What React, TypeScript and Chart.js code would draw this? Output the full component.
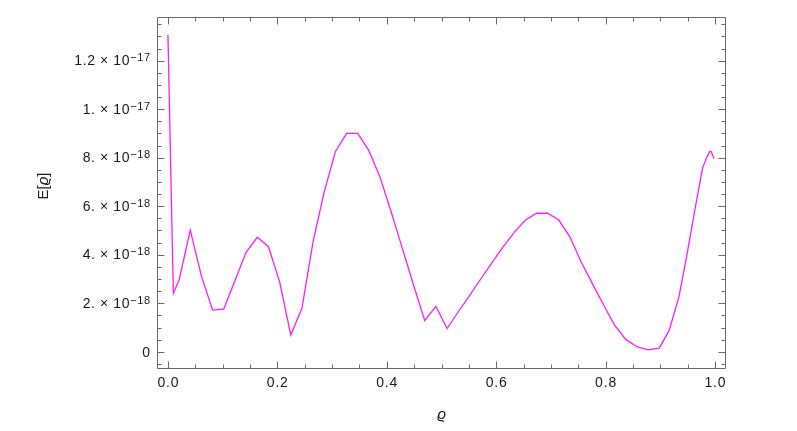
import React, { useEffect, useRef } from "react";
import { Chart, registerables } from "chart.js";

Chart.register(...registerables);

// ---- data ----
const RHO = [
  0, 0.0099, 0.0204, 0.0408, 0.0612, 0.0816, 0.102, 0.1224, 0.1429, 0.1633,
  0.1837, 0.2041, 0.2245, 0.2449, 0.2653, 0.2857, 0.3061, 0.3265, 0.3469, 0.3673,
  0.3878, 0.4082, 0.4286, 0.449, 0.4694, 0.4898, 0.5102, 0.5306, 0.551, 0.5714,
  0.5918, 0.6122, 0.6327, 0.6531, 0.6735, 0.6939, 0.7143, 0.7347, 0.7551, 0.7755,
  0.7959, 0.8163, 0.8367, 0.8571, 0.8776, 0.898, 0.916, 0.934, 0.948, 0.963,
  0.977, 0.984, 0.99, 0.993, 0.998,
];
const ENERGY = [
  13.06e-18, 2.41e-18, 2.96e-18, 5.02e-18, 3.12e-18, 1.72e-18, 1.76e-18, 2.93e-18, 4.1e-18, 4.72e-18,
  4.33e-18, 2.89e-18, 0.69e-18, 1.79e-18, 4.54e-18, 6.6e-18, 8.25e-18, 9.0e-18, 9.0e-18, 8.29e-18,
  7.19e-18, 5.75e-18, 4.25e-18, 2.74e-18, 1.28e-18, 1.87e-18, 0.96e-18, 1.65e-18, 2.3e-18, 2.99e-18,
  3.65e-18, 4.31e-18, 4.91e-18, 5.42e-18, 5.71e-18, 5.71e-18, 5.43e-18, 4.74e-18, 3.71e-18, 2.82e-18,
  1.95e-18, 1.1e-18, 0.51e-18, 0.21e-18, 0.08e-18, 0.15e-18, 0.87e-18, 2.27e-18, 3.92e-18, 5.84e-18,
  7.56e-18, 7.97e-18, 8.25e-18, 8.25e-18, 7.97e-18,
];

// ---- axes / ticks ----
const X_MIN = -0.02;
const X_MAX = 1.02;
const Y_MIN = -0.71e-18;
const Y_MAX = 13.8e-18;

const X_MAJOR = [0, 0.2, 0.4, 0.6, 0.8, 1.0];
const X_LABELS = ["0.0", "0.2", "0.4", "0.6", "0.8", "1.0"];
const X_MINOR = [
  0.05, 0.1, 0.15, 0.25, 0.3, 0.35, 0.45, 0.5, 0.55, 0.65, 0.7, 0.75, 0.85, 0.9, 0.95,
];

const Y_MAJOR = [0, 2e-18, 4e-18, 6e-18, 8e-18, 1e-17, 1.2e-17];
const Y_MANTISSA = ["0", "2.", "4.", "6.", "8.", "1.", "1.2"];
const Y_EXPONENT = ["", "\u221218", "\u221218", "\u221218", "\u221218", "\u221217", "\u221217"];
const Y_MINOR = [
  -0.5e-18, 0.5e-18, 1e-18, 1.5e-18, 2.5e-18, 3e-18, 3.5e-18, 4.5e-18, 5e-18, 5.5e-18,
  6.5e-18, 7e-18, 7.5e-18, 8.5e-18, 9e-18, 9.5e-18, 10.5e-18, 11e-18, 11.5e-18,
  12.5e-18, 13e-18, 13.5e-18,
];

const X_TITLE = "\u03F1";
const Y_TITLE_PARTS = ["E[", "\u03F1", "]"];

const FONT = '"Liberation Sans", Arial, sans-serif';
const FRAME_COLOR = "#6a6a6a";
const TEXT_COLOR = "#1a1a1a";
const LINE_COLOR = "#ff1aff";

const framePlugin = {
  id: "mmaFrame",
  beforeDatasetsDraw(chart: any) {
    const { ctx, chartArea: a, scales } = chart;
    const x = scales.x;
    const y = scales.y;
    ctx.save();
    ctx.strokeStyle = FRAME_COLOR;
    ctx.lineWidth = 1;
    const L = Math.round(a.left) + 0.5;
    const R = Math.round(a.right) - 0.5;
    const T = Math.round(a.top) + 0.5;
    const B = Math.round(a.bottom) - 0.5;
    ctx.beginPath();
    ctx.rect(L, T, R - L, B - T);
    ctx.stroke();

    ctx.beginPath();
    const xt = (v: number, len: number) => {
      const px = Math.round(x.getPixelForValue(v)) + 0.5;
      ctx.moveTo(px, B);
      ctx.lineTo(px, B - len);
      ctx.moveTo(px, T);
      ctx.lineTo(px, T + len);
    };
    const yt = (v: number, len: number) => {
      const py = Math.round(y.getPixelForValue(v)) + 0.5;
      ctx.moveTo(L, py);
      ctx.lineTo(L + len, py);
      ctx.moveTo(R, py);
      ctx.lineTo(R - len, py);
    };
    X_MAJOR.forEach((v) => xt(v, 7));
    X_MINOR.forEach((v) => xt(v, 4));
    Y_MAJOR.forEach((v) => yt(v, 7));
    Y_MINOR.forEach((v) => yt(v, 4));
    ctx.stroke();
    ctx.restore();
  },
  afterDraw(chart: any) {
    const { ctx, chartArea: a, scales } = chart;
    const x = scales.x;
    const y = scales.y;
    ctx.save();
    ctx.fillStyle = TEXT_COLOR;

    // x tick labels
    ctx.font = `14px ${FONT}`;
    (ctx as any).letterSpacing = "0.8px";
    ctx.textAlign = "center";
    ctx.textBaseline = "middle";
    X_MAJOR.forEach((v, i) => {
      ctx.fillText(X_LABELS[i], x.getPixelForValue(v) + 0.4, a.bottom + 14.5);
    });

    // y tick labels with superscript exponents
    const rightEdge = a.left - 7;
    (ctx as any).letterSpacing = "0.6px";
    Y_MAJOR.forEach((v, i) => {
      const py = y.getPixelForValue(v);
      const exp = Y_EXPONENT[i];
      if (!exp) {
        ctx.font = `14px ${FONT}`;
        ctx.textAlign = "right";
        ctx.textBaseline = "middle";
        ctx.fillText(Y_MANTISSA[i], rightEdge + 0.6, py + 1);
        return;
      }
      ctx.textBaseline = "alphabetic";
      ctx.textAlign = "right";
      ctx.font = `11px ${FONT}`;
      const ew = ctx.measureText(exp).width;
      ctx.fillText(exp, rightEdge + 0.6, py + 0.5);
      ctx.font = `14px ${FONT}`;
      ctx.fillText(`${Y_MANTISSA[i]} \u00D7 10`, rightEdge - ew + 0.6, py + 4.5);
    });
    (ctx as any).letterSpacing = "0px";

    // x title
    ctx.font = `italic 15px ${FONT}`;
    ctx.textAlign = "center";
    ctx.textBaseline = "middle";
    ctx.fillText(X_TITLE, x.getPixelForValue(0.5), 415);

    // y title (rotated)
    ctx.save();
    ctx.translate(44, 186);
    ctx.rotate(-Math.PI / 2);
    const fonts = [`15px ${FONT}`, `italic 15px ${FONT}`, `15px ${FONT}`];
    let total = 0;
    const widths = Y_TITLE_PARTS.map((p, i) => {
      ctx.font = fonts[i];
      const w = ctx.measureText(p).width;
      total += w;
      return w;
    });
    let cx = -total / 2;
    ctx.textAlign = "left";
    ctx.textBaseline = "middle";
    Y_TITLE_PARTS.forEach((p, i) => {
      ctx.font = fonts[i];
      ctx.fillText(p, cx, 0);
      cx += widths[i];
    });
    ctx.restore();

    ctx.restore();
  },
};

export default function App() {
  const ref = useRef<HTMLCanvasElement | null>(null);

  useEffect(() => {
    document.body.style.margin = "0";
    const canvas = ref.current;
    if (!canvas) return;
    const points = RHO.map((r, i) => ({ x: r, y: ENERGY[i] }));
    const chart = new Chart(canvas, {
      type: "line",
      data: {
        datasets: [
          {
            data: points,
            borderColor: LINE_COLOR,
            borderWidth: 1.3,
            pointRadius: 0,
            tension: 0,
            fill: false,
          },
        ],
      },
      options: {
        animation: false,
        responsive: false,
        devicePixelRatio: 1,
        layout: { padding: { top: 17, right: 71, left: 0, bottom: 0 } },
        plugins: {
          legend: { display: false },
          tooltip: { enabled: false },
        },
        scales: {
          x: {
            type: "linear",
            min: X_MIN,
            max: X_MAX,
            grid: { display: false },
            border: { display: false },
            ticks: { display: false },
            afterFit: (s: any) => {
              s.height = 62;
            },
          },
          y: {
            type: "linear",
            min: Y_MIN,
            max: Y_MAX,
            grid: { display: false },
            border: { display: false },
            ticks: { display: false },
            afterFit: (s: any) => {
              s.width = 157;
            },
          },
        },
      },
      plugins: [framePlugin],
    });
    return () => chart.destroy();
  }, []);

  return (
    <div style={{ width: 797, height: 431, background: "#fff" }}>
      <canvas ref={ref} width={797} height={431} style={{ display: "block" }} />
    </div>
  );
}
